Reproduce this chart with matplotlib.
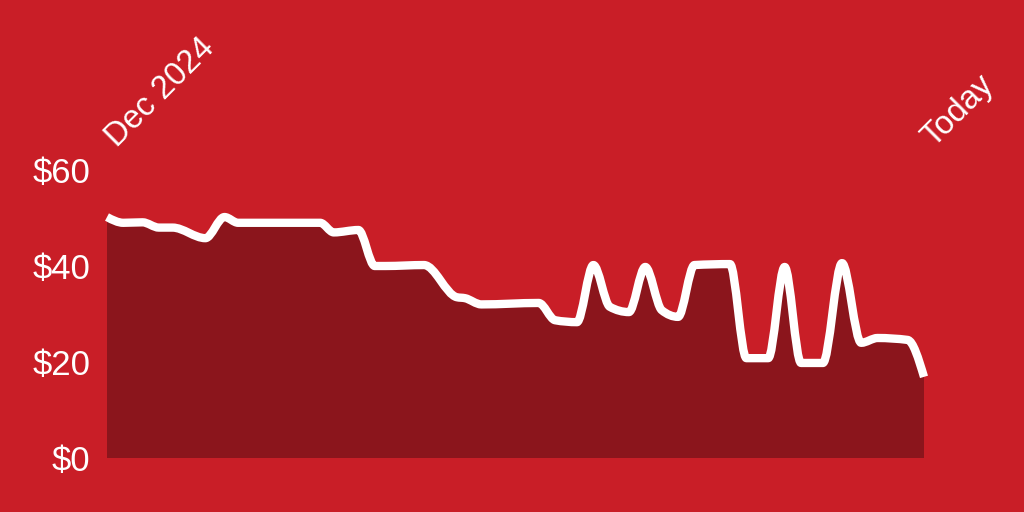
import numpy as np
import matplotlib
matplotlib.use("Agg")
import matplotlib.pyplot as plt
from matplotlib.path import Path
from matplotlib.patches import PathPatch
from matplotlib.transforms import ScaledTranslation

BG = "#C91E27"
FILL = "#8B151C"
LINE = "#FFFFFF"

# days since start of Dec 2024, price in dollars
days = [0, 6, 13, 19, 24, 36, 43, 48, 78, 83, 92, 98, 102, 116, 128, 131, 137,
        158, 164, 172, 178, 184, 191, 197, 203, 209, 215, 228, 234, 242, 248,
        254, 262, 269, 276, 282, 293, 299]
price = [50.2, 49.0, 49.1, 48.0, 48.0, 45.8, 50.2, 49.0, 49.0, 47.0, 47.5,
         40.0, 40.0, 40.2, 33.5, 33.3, 32.0, 32.3, 28.7, 28.3, 40.2, 31.5,
         30.4, 39.8, 30.8, 29.4, 40.2, 40.4, 20.8, 20.8, 39.8, 19.8, 19.8,
         40.6, 24.0, 25.0, 24.6, 16.9]
yticks = [0, 20, 40, 60]
ytick_labels = ["$0", "$20", "$40", "$60"]
xtick_labels = ["Dec 2024", "Today"]


def monotone_tangents(x, y):
    # same slopes as d3 curveMonotoneX
    n = len(x)
    h = np.diff(x)
    s = np.diff(y) / h
    t = np.zeros(n)
    for i in range(1, n - 1):
        p = (s[i - 1] * h[i] + s[i] * h[i - 1]) / (h[i - 1] + h[i])
        t[i] = (np.sign(s[i - 1]) + np.sign(s[i])) * min(abs(s[i - 1]), abs(s[i]), 0.5 * abs(p))
    t[0] = (3 * s[0] - t[1]) / 2
    t[-1] = (3 * s[-1] - t[-2]) / 2
    return t


def smooth_path(x, y):
    x = np.asarray(x, float)
    y = np.asarray(y, float)
    t = monotone_tangents(x, y)
    verts = [(x[0], y[0])]
    codes = [Path.MOVETO]
    for i in range(len(x) - 1):
        dx = (x[i + 1] - x[i]) / 3
        verts += [(x[i] + dx, y[i] + dx * t[i]),
                  (x[i + 1] - dx, y[i + 1] - dx * t[i + 1]),
                  (x[i + 1], y[i + 1])]
        codes += [Path.CURVE4] * 3
    return verts, codes


plt.rcParams['font.family'] = ['Liberation Sans', 'DejaVu Sans']

fig = plt.figure(figsize=(10.24, 5.12), dpi=100, facecolor=BG)
ax = fig.add_axes([107 / 1024, 54 / 512, 817 / 1024, 288 / 512])
ax.set_facecolor(BG)

verts, codes = smooth_path(days, price)
fill_verts = verts + [(days[-1], 0), (days[0], 0), (days[0], 0)]
fill_codes = codes + [Path.LINETO, Path.LINETO, Path.CLOSEPOLY]
ax.add_patch(PathPatch(Path(fill_verts, fill_codes), facecolor=FILL, edgecolor="none"))
ax.add_patch(PathPatch(Path(verts, codes), facecolor="none", edgecolor=LINE,
                       lw=6, capstyle="butt", joinstyle="round", clip_on=False))

ax.set_xlim(days[0], days[-1])
ax.set_ylim(0, 60)

ax.set_yticks(yticks)
ax.set_yticklabels(ytick_labels)
ax.tick_params(axis="y", length=0, pad=12, labelsize=25, labelcolor="white")
ax.set_xticks([])

# date labels above the first and last points
offset = ScaledTranslation(7 / 72, 16 / 72, fig.dpi_scale_trans)
for xv, lab in zip([days[0], days[-1]], xtick_labels):
    ax.text(xv, 1, lab, transform=ax.get_xaxis_transform() + offset,
            rotation=45, rotation_mode="anchor", ha="left", va="baseline",
            fontsize=23.5, color="white", clip_on=False)

for sp in ax.spines.values():
    sp.set_visible(False)

fig.savefig("out.png", dpi=100, facecolor=BG)
